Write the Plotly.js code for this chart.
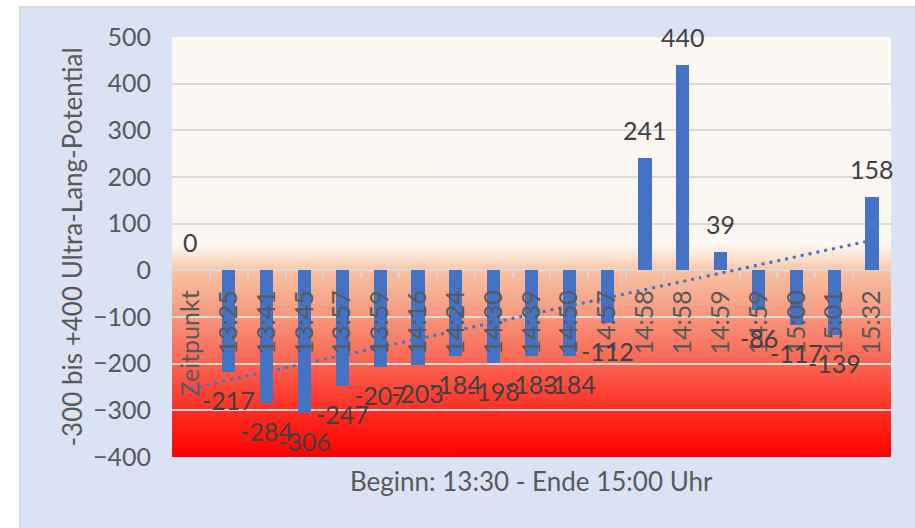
<!DOCTYPE html>
<html>
<head>
<meta charset="utf-8">
<script src="https://cdn.plot.ly/plotly-3.0.1.min.js"></script>
<style>
  html, body { margin: 0; padding: 0; background: #ffffff; width: 915px; height: 528px; overflow: hidden; }
  #chart { position: absolute; left: 19px; top: 6px; width: 894px; height: 520px;
           border-left: 2px solid #d9d9d9; border-top: 2px solid #d9d9d9; background: #dae3f3; }
</style>
</head>
<body>
<div id="chart"></div>
<script>
// ---- data ----
const categories = ["Zeitpunkt", "13:25", "13:41", "13:45", "13:57", "13:59", "14:16", "14:24", "14:30",
                    "14:39", "14:50", "14:57", "14:58", "14:58", "14:59", "14:59", "15:00", "15:01", "15:32"];
const values = [0, -217, -284, -306, -247, -207, -203, -184, -198, -183, -184, -112, 241, 440, 39, -86, -117, -139, 158];
const yTickVals = [-400, -300, -200, -100, 0, 100, 200, 300, 400, 500];
const yTitle = "-300 bis +400 Ultra-Lang-Potential";
const xTitle = "Beginn: 13:30 - Ende 15:00 Uhr";

// ---- derived ----
const idx = categories.map((_, i) => i);
// linear trendline (least squares), like the spreadsheet trendline
const n = values.length;
const mx = idx.reduce((a, b) => a + b, 0) / n;
const my = values.reduce((a, b) => a + b, 0) / n;
let sxy = 0, sxx = 0;
for (let i = 0; i < n; i++) { sxy += (idx[i] - mx) * (values[i] - my); sxx += (idx[i] - mx) ** 2; }
const slope = sxy / sxx, icpt = my - slope * mx;
const trendX = [idx[0], idx[n - 1]];
const trendY = trendX.map(x => icpt + slope * x);

// ---- background gradient image ----
const yMin = -400, yMax = 500;
function gradientURL() {
  const c = document.createElement('canvas');
  c.width = 4; c.height = 900;
  const g = c.getContext('2d');
  const grd = g.createLinearGradient(0, 0, 0, 900);
  const stops = [[500, '#fdf8f4'], [55, '#fdf7f2'], [25, '#fbe0cd'], [0, 'rgb(248,196,165)'],
                 [-100, 'rgb(247,150,124)'], [-200, 'rgb(250,100,82)'], [-300, 'rgb(254,46,36)'], [-400, 'rgb(255,0,0)']];
  stops.forEach(([v, col]) => grd.addColorStop((yMax - v) / (yMax - yMin), col));
  g.fillStyle = grd; g.fillRect(0, 0, 4, 900);
  return c.toDataURL();
}

const font = 'Lato, "Open Sans", sans-serif';
const zeroPos = (0 - yMin) / (yMax - yMin);

const traces = [
  { type: 'bar', x: idx, y: values, width: 0.35, marker: { color: '#4472c4' }, hoverinfo: 'x+y' },
  { type: 'scatter', mode: 'lines', x: trendX, y: trendY, xaxis: 'x2',
    line: { color: '#4472c4', width: 3, dash: '3px,5px' }, hoverinfo: 'skip' }
];

const annotations = values.map((v, i) => ({
  x: i, y: v, xref: 'x', yref: 'y', text: String(v), showarrow: false,
  yanchor: 'middle', yshift: v >= 0 ? 28 : -28,
  font: { family: font, size: 25, color: '#404040' }
}));
annotations.push({
  x: 0.5, y: 0, xref: 'paper', yref: 'paper', text: xTitle, showarrow: false,
  yanchor: 'top', yshift: -6, font: { family: font, size: 26, color: '#595959' }
});

const layout = {
  width: 894, height: 520,
  margin: { l: 151, r: 24, t: 29, b: 71 },
  paper_bgcolor: '#dae3f3', plot_bgcolor: 'rgba(0,0,0,0)',
  showlegend: false, bargap: 0,
  font: { family: font, color: '#595959' },
  xaxis: {
    range: [-0.5, n - 0.5], anchor: 'free', position: zeroPos,
    tickmode: 'array', tickvals: idx, ticktext: categories, tickangle: -90,
    ticks: '', ticklabelstandoff: 14, showgrid: false, zeroline: false, showline: false,
    tickfont: { family: font, size: 25, color: '#595959' }
  },
  xaxis2: {
    overlaying: 'x', matches: 'x', anchor: 'free', position: zeroPos,
    tickmode: 'array', tickvals: idx.map(i => i - 0.5).concat([n - 0.5]),
    ticks: 'outside', ticklen: 7, tickwidth: 2, tickcolor: '#d9d9d9',
    showticklabels: false, showgrid: false, zeroline: false, showline: false
  },
  yaxis: {
    range: [yMin, yMax], tickmode: 'array', tickvals: yTickVals,
    showgrid: true, gridcolor: '#d9d9d9', gridwidth: 2,
    zeroline: true, zerolinecolor: '#d9d9d9', zerolinewidth: 2,
    ticks: '', ticklabelstandoff: 20,
    tickfont: { family: font, size: 25, color: '#595959' },
    title: { text: yTitle, font: { family: font, size: 26, color: '#595959' }, standoff: 2 }
  },
  images: [{
    source: gradientURL(), xref: 'paper', yref: 'y', x: 0, y: yMax, sizex: 1, sizey: yMax - yMin,
    xanchor: 'left', yanchor: 'top', sizing: 'stretch', layer: 'below'
  }],
  annotations: annotations
};

Plotly.newPlot('chart', traces, layout, { displayModeBar: false, staticPlot: true });
</script>
</body>
</html>
